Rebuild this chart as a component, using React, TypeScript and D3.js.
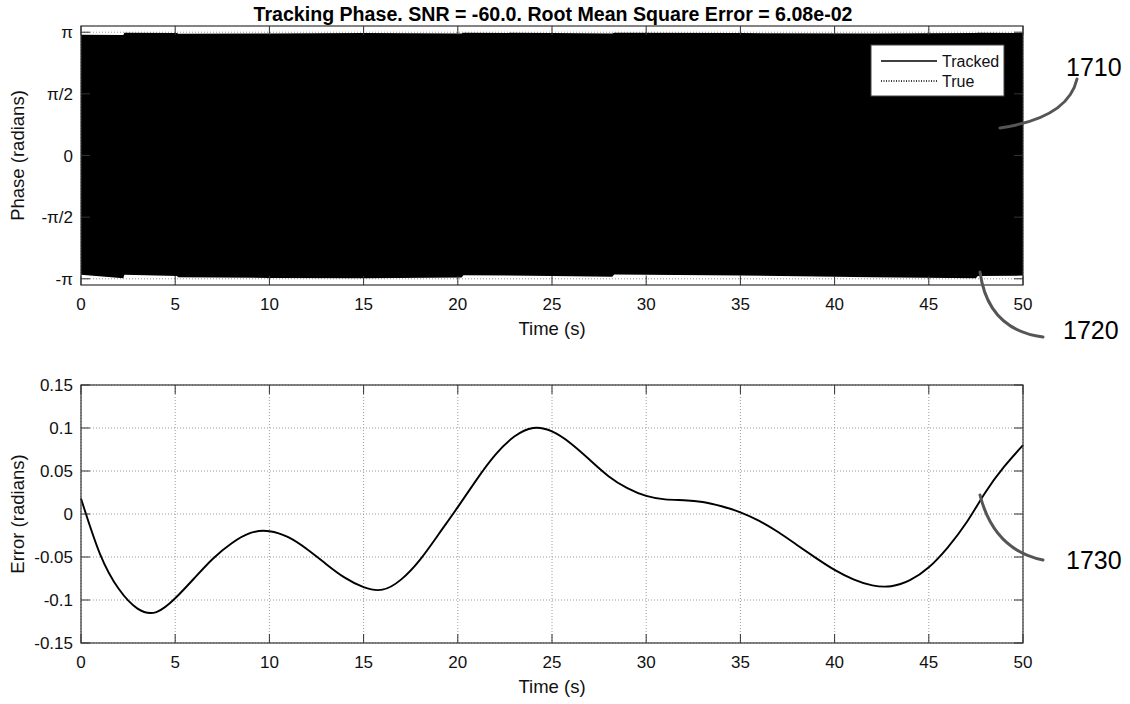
import React from "react";
import * as d3 from "d3";

// ---- data ----
const TIME_TICKS = [0, 5, 10, 15, 20, 25, 30, 35, 40, 45, 50];

const PHASE_TICKS = [-Math.PI, -Math.PI / 2, 0, Math.PI / 2, Math.PI];
const PHASE_TICK_LABELS = ["-π", "-π/2", "0", "π/2", "π"];

const ERR_TICKS = [-0.15, -0.1, -0.05, 0, 0.05, 0.1, 0.15];
const ERR_TICK_LABELS = ["-0.15", "-0.1", "-0.05", "0", "0.05", "0.1", "0.15"];

// envelope of the rapidly wrapping tracked phase (max / min per time slice)
const ENV_T = [0, 2.25, 2.3, 5.1, 5.15, 10, 15, 20.2, 20.3, 25, 28.2, 28.3, 35, 42, 47.5, 47.6, 50];
const ENV_UP = [3.08, 3.07, 3.13, 3.12, 3.1, 3.11, 3.12, 3.11, 3.13, 3.12, 3.11, 3.13, 3.12, 3.11, 3.12, 3.13, 3.12];
const ENV_LO = [-3.04, -3.13, -3.04, -3.07, -3.1, -3.12, -3.13, -3.11, -3.05, -3.07, -3.09, -3.03, -3.06, -3.1, -3.13, -3.07, -3.06];

// phase tracking error, one sample per second
const ERR_T = [0, 1, 2, 3, 4, 5, 6, 7, 8, 9, 10, 11, 12, 13, 14, 15, 16, 17, 18, 19, 20, 21, 22, 23, 24, 25, 26, 27, 28, 29, 30, 31, 32, 33, 34, 35, 36, 37, 38, 39, 40, 41, 42, 43, 44, 45, 46, 47, 48, 49, 50];
const ERR_V = [
  0.018, -0.046, -0.087, -0.11, -0.114, -0.098, -0.075, -0.052, -0.034, -0.022,
  -0.02, -0.027, -0.041, -0.058, -0.074, -0.085, -0.088, -0.076, -0.053, -0.023,
  0.008, 0.04, 0.069, 0.09, 0.1, 0.096, 0.082, 0.063, 0.044, 0.03,
  0.021, 0.017, 0.016, 0.014, 0.009, 0.002, -0.008, -0.021, -0.036, -0.051,
  -0.065, -0.076, -0.083, -0.084, -0.077, -0.062, -0.039, -0.01, 0.025, 0.055,
  0.08,
];

const TITLE = "Tracking Phase. SNR = -60.0. Root Mean Square Error = 6.08e-02";
const LEGEND = ["Tracked", "True"];

// ---- layout ----
const W = 1130;
const H = 704;
const X0 = 81;
const X1 = 1023;
const TOP = { y0: 26, y1: 285 };
const BOT = { y0: 385, y1: 643 };
const FONT = "'Liberation Sans', Arial, sans-serif";
const AXIS = "#333";
const GRID = "#9a9a9a";
const TICK = 9;

const x = d3.scaleLinear().domain([0, 50]).range([X0, X1]);
const yPhase = d3.scaleLinear().domain([-3.3, 3.3]).range([TOP.y1, TOP.y0]);
const yErr = d3.scaleLinear().domain([-0.15, 0.15]).range([BOT.y1, BOT.y0]);

function Grid({ y0, y1, yScale, yTicks }: any) {
  return (
    <g>
      {TIME_TICKS.map((t) => (
        <line key={"gx" + t} x1={x(t)} x2={x(t)} y1={y0} y2={y1} stroke={GRID} strokeWidth={1} strokeDasharray="1,2" />
      ))}
      {yTicks.map((v: number, i: number) => (
        <line key={"gy" + i} x1={X0} x2={X1} y1={yScale(v)} y2={yScale(v)} stroke={GRID} strokeWidth={1} strokeDasharray="1,2" />
      ))}
    </g>
  );
}

function Axes({ y0, y1, yScale, yTicks, yLabels, yTitle }: any) {
  return (
    <g fontFamily={FONT} fill="#111">
      <rect x={X0} y={y0} width={X1 - X0} height={y1 - y0} fill="none" stroke={AXIS} strokeWidth={1.2} />
      {TIME_TICKS.map((t) => (
        <g key={"xt" + t}>
          <line x1={x(t)} x2={x(t)} y1={y1} y2={y1 - TICK} stroke={AXIS} />
          <line x1={x(t)} x2={x(t)} y1={y0} y2={y0 + TICK} stroke={AXIS} />
          <text x={x(t)} y={y1 + 25} fontSize={17} textAnchor="middle">
            {t}
          </text>
        </g>
      ))}
      {yTicks.map((v: number, i: number) => (
        <g key={"yt" + i}>
          <line x1={X0} x2={X0 + TICK} y1={yScale(v)} y2={yScale(v)} stroke={AXIS} />
          <line x1={X1} x2={X1 - TICK} y1={yScale(v)} y2={yScale(v)} stroke={AXIS} />
          <text x={73} y={yScale(v)} dy="0.36em" fontSize={17} textAnchor="end">
            {yLabels[i]}
          </text>
        </g>
      ))}
      <text x={(X0 + X1) / 2} y={y1 + 50} fontSize={18.5} textAnchor="middle">
        Time (s)
      </text>
      <text transform={`translate(24,${(y0 + y1) / 2}) rotate(-90)`} fontSize={18.5} textAnchor="middle">
        {yTitle}
      </text>
    </g>
  );
}

export default function App() {
  const envelope = d3
    .area<number>()
    .x((_, i) => x(ENV_T[i]))
    .y0((_, i) => yPhase(ENV_LO[i]))
    .y1((_, i) => yPhase(ENV_UP[i]))
    .curve(d3.curveLinear);

  const errLine = d3
    .line<number>()
    .x((_, i) => x(ERR_T[i]))
    .y((d) => yErr(d))
    .curve(d3.curveNatural);

  return (
    <svg width={W} height={H} style={{ position: "absolute", left: 0, top: 0, background: "#fff" }}>
      <rect width={W} height={H} fill="#fff" />

      {/* upper panel: wrapped phase */}
      <Grid y0={TOP.y0} y1={TOP.y1} yScale={yPhase} yTicks={PHASE_TICKS} />
      <path d={envelope(ENV_T) || ""} fill="#000" />
      <Axes
        y0={TOP.y0}
        y1={TOP.y1}
        yScale={yPhase}
        yTicks={PHASE_TICKS}
        yLabels={PHASE_TICK_LABELS}
        yTitle="Phase (radians)"
      />
      <text x={553} y={21} fontFamily={FONT} fontSize={19.6} fontWeight="bold" textAnchor="middle" fill="#000">
        {TITLE}
      </text>

      {/* legend */}
      <g fontFamily={FONT} fontSize={16} fill="#111">
        <rect x={871} y={45} width={133} height={51} fill="#fff" stroke="#444" strokeWidth={1} />
        <line x1={881} x2={937} y1={61} y2={61} stroke="#000" strokeWidth={1.5} />
        <text x={942} y={67}>{LEGEND[0]}</text>
        <line x1={881} x2={937} y1={81} y2={81} stroke="#000" strokeWidth={1.3} strokeDasharray="1,1.5" />
        <text x={942} y={87}>{LEGEND[1]}</text>
      </g>

      {/* lower panel: error */}
      <Grid y0={BOT.y0} y1={BOT.y1} yScale={yErr} yTicks={ERR_TICKS} />
      <path d={errLine(ERR_V) || ""} fill="none" stroke="#000" strokeWidth={1.9} />
      <Axes
        y0={BOT.y0}
        y1={BOT.y1}
        yScale={yErr}
        yTicks={ERR_TICKS}
        yLabels={ERR_TICK_LABELS}
        yTitle="Error (radians)"
      />

      {/* reference numerals with leader lines */}
      <g fill="none" stroke="#555" strokeWidth={3} strokeLinecap="round">
        <path d="M1000,128 Q1068,118 1077,79" />
        <path d="M980,272 Q988,330 1043,337" />
        <path d="M980,495 Q994,550 1043,560" />
      </g>
      <g fontFamily={FONT} fontSize={25} fill="#000">
        <text x={1066} y={76}>1710</text>
        <text x={1063} y={339}>1720</text>
        <text x={1066} y={569}>1730</text>
      </g>
    </svg>
  );
}
